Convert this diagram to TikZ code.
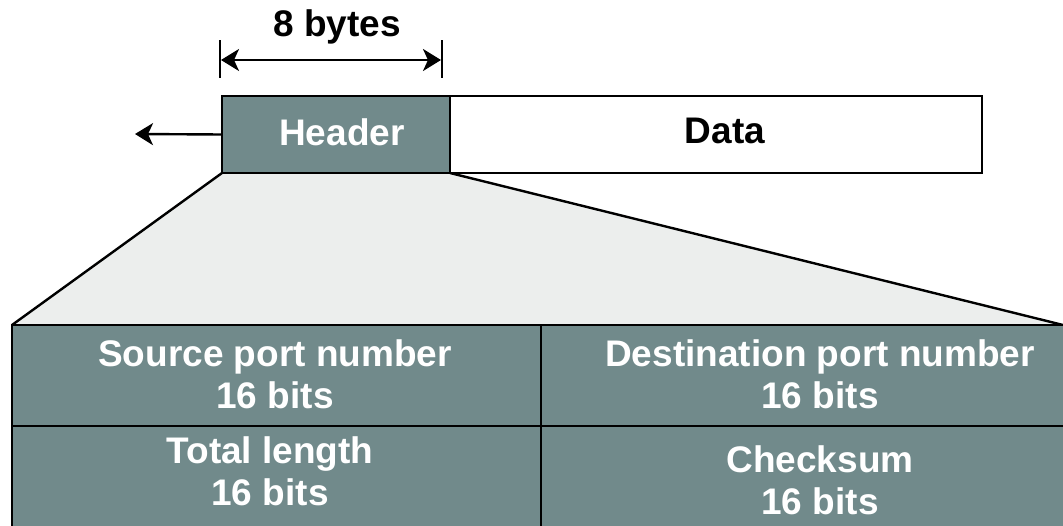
\documentclass[tikz,border=0pt]{standalone}
\usepackage{fontspec}
\setmainfont{Liberation Sans}
\usetikzlibrary{arrows.meta}
\definecolor{hdr}{RGB}{113,138,139}
\definecolor{fan}{RGB}{236,238,237}
\begin{document}
\begin{tikzpicture}[x=1pt,y=-1pt,line width=2.4pt,
  lbl/.style={font=\fontsize{37}{42}\selectfont\bfseries, inner sep=0pt},
  box/.style={draw=black, inner sep=0pt, outer sep=0pt, anchor=north west},
  wlbl/.style={lbl, text=white, align=center},
  tip/.style={-{Stealth[length=18pt,width=22pt,inset=5pt]}},
  dtip/.style={{Stealth[length=18pt,width=22pt,inset=5pt]}-{Stealth[length=18pt,width=22pt,inset=5pt]}}]
\clip (0,0) rectangle (1063,525);
\fill[white] (0,0) rectangle (1063,525);
% fan
\fill[fan] (222,173) -- (450,173) -- (1063,325) -- (12,325) -- cycle;
% packet
\node[box, fill=hdr, minimum width=228pt, minimum height=77pt] (header) at (222,96) {};
\node[box, fill=white, minimum width=532pt, minimum height=77pt] (data) at (450,96) {};
\node[wlbl] (htext) at (342,132) {Header};
\node[lbl] (dtext) at (725,131) {Data};
\draw (header.south west) -- (12,325);
\draw (header.south east) -- (1063,325);
% left arrow
\coordinate (lend) at (135,134);
\draw[tip] (header.west) -- (lend);
% dimension
\coordinate (t1a) at (220,40); \coordinate (t1b) at (220,78);
\coordinate (t2a) at (442,40); \coordinate (t2b) at (442,78);
\draw[line width=2pt] (t1a) -- (t1b);
\draw[line width=2pt] (t2a) -- (t2b);
\draw[dtip] (221,60) -- (441,60);
\node[lbl] (bytes) at (337,27) {8 bytes};
% table
\node[box, fill=hdr, minimum width=529pt, minimum height=101pt] (c11) at (12,325) {};
\node[box, fill=hdr, minimum width=560pt, minimum height=101pt] (c12) at (541,325) {};
\node[box, fill=hdr, minimum width=529pt, minimum height=110pt] (c21) at (12,426) {};
\node[box, fill=hdr, minimum width=560pt, minimum height=110pt] (c22) at (541,426) {};
\node[wlbl] (src) at (275,374) {Source port number\\16 bits};
\node[wlbl] (dst) at (820,374) {Destination port number\\16 bits};
\node[wlbl] (tot) at (270,471) {Total length\\16 bits};
\node[wlbl] (chk) at (820,480) {Checksum\\16 bits};
\end{tikzpicture}
\end{document}
